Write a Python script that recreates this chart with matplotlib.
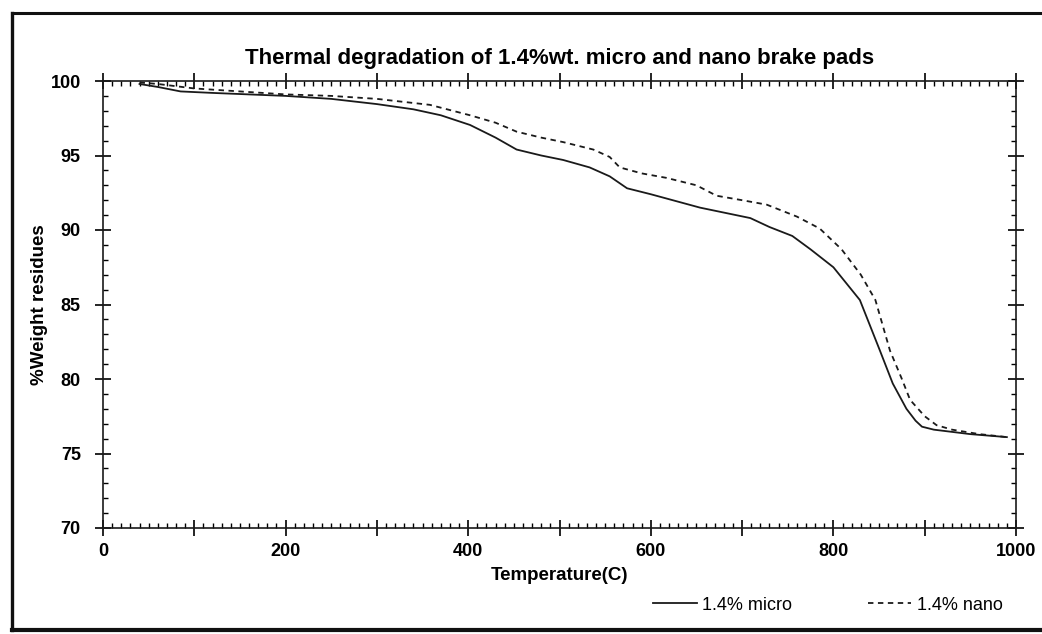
import numpy as np
import matplotlib
matplotlib.use('Agg')
import matplotlib.pyplot as plt
from matplotlib.ticker import MultipleLocator, FuncFormatter
from matplotlib.lines import Line2D

plt.rcParams['font.family'] = ['Liberation Sans', 'DejaVu Sans']

# DATA
micro_temp = [40, 60, 85, 120, 160, 200, 250, 300, 340, 370, 402, 430, 453, 480, 504, 533, 555, 574,
              600, 654, 709, 730, 755, 775, 800, 829, 851, 865, 880, 890, 897, 910, 950, 990]
micro_wt = [99.8, 99.6, 99.3, 99.2, 99.1, 99.0, 98.8, 98.45, 98.1, 97.7, 97.05, 96.2, 95.4, 95.0, 94.7, 94.2, 93.6, 92.8,
            92.4, 91.5, 90.8, 90.2, 89.6, 88.7, 87.5, 85.3, 81.9, 79.7, 78.0, 77.2, 76.8, 76.6, 76.3, 76.1]

nano_temp = [40, 60, 100, 150, 200, 250, 300, 358, 402, 430, 453, 480, 504, 537, 555, 566, 590, 617,
             650, 672, 700, 727, 760, 785, 809, 830, 846, 862, 875, 884, 900, 913, 930, 960, 990]
nano_wt = [99.9, 99.8, 99.5, 99.3, 99.1, 99.0, 98.8, 98.4, 97.7, 97.2, 96.6, 96.2, 95.9, 95.4, 94.9, 94.2, 93.8, 93.5,
           93.0, 92.3, 92.0, 91.7, 90.9, 90.1, 88.7, 87.0, 85.3, 81.9, 80.0, 78.6, 77.5, 76.9, 76.6, 76.3, 76.1]

title = 'Thermal degradation of 1.4%wt. micro and nano brake pads'
labels = ['1.4% micro', '1.4% nano']

# FIGURE
fig = plt.figure(figsize=(10.42, 6.34), dpi=100)
ax = fig.add_axes([103/1042, 1 - 528/634, (1016 - 103)/1042, (528 - 81)/634])

l1, = ax.plot(micro_temp, micro_wt, color='#1a1a1a', lw=1.3, label=labels[0])
l2, = ax.plot(nano_temp, nano_wt, color='#1a1a1a', lw=1.3, dashes=(3, 2.5), label=labels[1])

ax.set_xlim(0, 1000)
ax.set_ylim(70, 100)

# AXIS / TICKS
ax.xaxis.set_major_locator(MultipleLocator(100))
ax.xaxis.set_minor_locator(MultipleLocator(10))
ax.xaxis.set_major_formatter(FuncFormatter(lambda v, p: '%d' % v if v % 200 == 0 else ''))
ax.yaxis.set_major_locator(MultipleLocator(5))
ax.yaxis.set_minor_locator(MultipleLocator(1))

ax.tick_params(which='major', direction='inout', length=12, width=1.2, top=True, right=True,
               labelsize=13)
ax.tick_params(axis='y', which='major', pad=10)
ax.tick_params(axis='x', which='major', pad=5)
ax.tick_params(which='minor', direction='in', length=3.5, width=1.0, top=True, right=True)
for lab in ax.get_xticklabels() + ax.get_yticklabels():
    lab.set_fontweight('bold')
for s in ax.spines.values():
    s.set_linewidth(1.2)
    s.set_color('#1a1a1a')

ax.set_title(title, fontsize=16, fontweight='bold', pad=12)
ax.set_xlabel('Temperature(C)', fontsize=13.5, fontweight='bold', labelpad=5)
ax.set_ylabel('%Weight residues', fontsize=13.5, fontweight='bold', labelpad=2)

# LEGEND below the plot, right side
fig.legend(handles=[l1, l2], loc='center', bbox_to_anchor=(828/1042, 1 - 605/634), ncol=2,
           frameon=False, fontsize=13, handlelength=2.4, handletextpad=0.3, columnspacing=4.2)

# scanned page border
fig.add_artist(Line2D([12/1042, 12/1042], [1 - 630/634, 1 - 13/634], color='#111111', lw=2.4))
fig.add_artist(Line2D([12/1042, 1.0], [1 - 13/634, 1 - 13/634], color='#111111', lw=2.2))
fig.add_artist(Line2D([12/1042, 1.0], [1 - 630/634, 1 - 630/634], color='#111111', lw=3.0))

fig.savefig('out.png', dpi=100)
